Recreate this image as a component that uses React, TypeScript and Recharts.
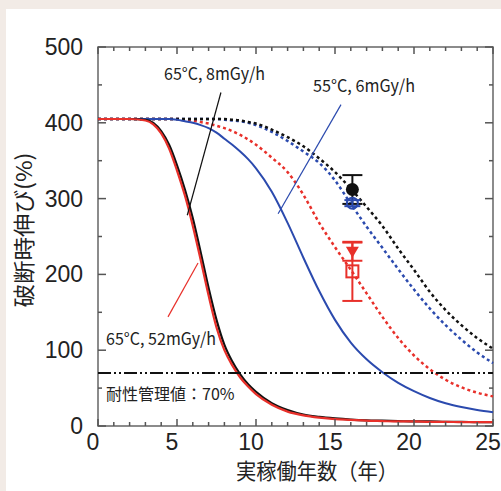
import React from 'react';
import {
  ComposedChart,
  Line,
  Scatter,
  ErrorBar,
  XAxis,
  YAxis,
  ReferenceLine,
  ReferenceArea,
} from 'recharts';

// 実稼働年数 (years)
const years = [0, 1, 2, 3, 3.5, 4, 4.5, 5, 5.5, 6, 6.5, 7, 7.5, 8, 8.5, 9, 9.5, 10, 11, 12, 13, 14, 15, 16, 17, 18, 19, 20, 21, 22, 23, 24, 25];

// solid curves
const black8 = [405, 405, 405, 404, 400, 389, 371, 344, 312, 274, 229, 182, 140, 107, 85, 68, 55, 45, 30, 21, 15, 12, 10, 8.5, 7.5, 7, 6.5, 6, 6, 5.5, 5.5, 5, 5];
const red52 = [405, 405, 405, 403, 398, 386, 366, 337, 304, 264, 219, 172, 130, 100, 80, 64, 52, 42, 28, 19, 14, 11, 9, 8, 7, 6.5, 6, 6, 5.5, 5.5, 5, 5, 5];
const blue6 = [405, 405, 405, 405, 405, 405, 405, 404, 402, 400, 397, 393, 387, 379, 371, 362, 352, 340, 309, 268, 222, 178, 140, 110, 88, 71, 57, 46, 37, 30, 25, 21, 18];

// dotted curves
const blackDot = [405, 405, 405, 405, 405, 405, 405, 405, 405, 405, 405, 405, 405, 405, 404, 403, 401, 399, 391, 381, 369, 353, 335, 313, 289, 264, 234, 206, 177, 153, 133, 116, 102];
const blueDot = [405, 405, 405, 405, 405, 405, 405, 405, 405, 405, 405, 405, 405, 404, 403, 402, 400, 397, 388, 376, 362, 347, 324, 293, 263, 235, 207, 180, 155, 133, 114, 97, 83];
const redDot = [405, 405, 405, 405, 405, 405, 405, 405, 404, 403, 401, 399, 396, 393, 389, 384, 378, 371, 354, 335, 305, 268, 236, 206, 175, 144, 116, 93, 75, 61, 51, 44, 39];

// measured points
const blackPoint = [{ x: 16.1, y: 312, err: 19 }];
const bluePoint = [{ x: 16.1, y: 294, err: 4 }];
const triPoint = [{ x: 16.1, y: 230, err: 12 }];
const squarePoint = [{ x: 16.1, y: 204, err: 39 }];

const xTicks = [0, 1, 2, 3, 4, 5, 6, 7, 8, 9, 10, 11, 12, 13, 14, 15, 16, 17, 18, 19, 20, 21, 22, 23, 24, 25];
const yTicks = [0, 50, 100, 150, 200, 250, 300, 350, 400, 450, 500];
const limitValue = 70;

const table = years.map((x, i) => ({
  x,
  black8: black8[i],
  red52: red52[i],
  blue6: blue6[i],
  blackDot: blackDot[i],
  blueDot: blueDot[i],
  redDot: redDot[i],
}));

const RED = '#e8302a';
const BLUE = '#2b4aae';
const BLACK = '#111';

const W = 501;
const H = 491;
const TOP = 47;
const BOTTOM = 426;
const LEFT = 98;
const RIGHT = 493;

const numFont = '"Liberation Sans", Arial, sans-serif';
const jpFont = '"Noto Sans CJK JP", "Noto Sans", sans-serif';

const XTick = (props: any) => {
  const { x, payload } = props;
  const major = payload.value % 5 === 0;
  const len = major ? 7 : 4;
  return (
    <g>
      <line x1={x} x2={x} y1={BOTTOM} y2={BOTTOM - len} stroke="#555" strokeWidth={1.5} />
      <line x1={x} x2={x} y1={TOP} y2={TOP + len} stroke="#555" strokeWidth={1.5} />
      {major && (
        <text x={x - 5} y={450} textAnchor="middle" fontFamily={numFont} fontSize={23} fill="#222">
          {payload.value}
        </text>
      )}
    </g>
  );
};

const YTick = (props: any) => {
  const { y, payload } = props;
  const major = payload.value % 100 === 0;
  const len = major ? 8 : 4;
  return (
    <g>
      <line x1={LEFT} x2={LEFT + len} y1={y} y2={y} stroke="#555" strokeWidth={1.5} />
      <line x1={RIGHT} x2={RIGHT - len} y1={y} y2={y} stroke="#555" strokeWidth={1.5} />
      {major && (
        <text x={83} y={y + 8} textAnchor="end" fontFamily={numFont} fontSize={23} fill="#222">
          {payload.value}
        </text>
      )}
    </g>
  );
};

const FilledCircle = (p: any) => <circle cx={p.cx} cy={p.cy} r={6.5} fill={BLACK} />;
const OpenCircle = (p: any) => (
  <circle cx={p.cx} cy={p.cy} r={5.5} fill="none" stroke={BLUE} strokeWidth={2} />
);
const DownTriangle = (p: any) => (
  <polygon
    points={`${p.cx - 6.5},${p.cy - 5} ${p.cx + 6.5},${p.cy - 5} ${p.cx},${p.cy + 6}`}
    fill={RED}
  />
);
const OpenSquare = (p: any) => (
  <rect x={p.cx - 6} y={p.cy - 6} width={12} height={12} fill="none" stroke={RED} strokeWidth={2} />
);

export default function App() {
  return (
    <div style={{ position: 'fixed', left: 0, top: 0, width: W, height: H, background: '#f2ebe6' }}>
      <div style={{ position: 'absolute', left: 6, top: 9, width: W - 6, height: H - 9, background: '#fff' }} />
      <div style={{ position: 'absolute', left: 0, top: 0 }}>
        <ComposedChart width={W} height={H} data={table} margin={{ top: TOP, right: W - RIGHT, bottom: 0, left: 0 }}>
          <XAxis
            type="number"
            dataKey="x"
            domain={[0, 25]}
            ticks={xTicks}
            interval={0}
            height={H - BOTTOM}
            axisLine={false}
            tickLine={false}
            tick={(p: any) => <XTick {...p} />}
          />
          <YAxis
            type="number"
            domain={[0, 500]}
            ticks={yTicks}
            interval={0}
            width={LEFT}
            axisLine={false}
            tickLine={false}
            tick={(p: any) => <YTick {...p} />}
          />
          <ReferenceArea x1={0} x2={25} y1={0} y2={500} fill="none" stroke="#666" strokeWidth={1.5} />

          <Line type="monotone" dataKey="redDot" stroke={RED} strokeWidth={2.5} strokeDasharray="3 3" dot={false} isAnimationActive={false} />
          <Line type="monotone" dataKey="blueDot" stroke={BLUE} strokeWidth={2.5} strokeDasharray="3 3" dot={false} isAnimationActive={false} />
          <Line type="monotone" dataKey="blackDot" stroke={BLACK} strokeWidth={2.5} strokeDasharray="3 3" dot={false} isAnimationActive={false} />
          <Line type="monotone" dataKey="blue6" stroke={BLUE} strokeWidth={2} dot={false} isAnimationActive={false} />
          <Line type="monotone" dataKey="black8" stroke={BLACK} strokeWidth={2.2} dot={false} isAnimationActive={false} />
          <Line type="monotone" dataKey="red52" stroke={RED} strokeWidth={2.2} dot={false} isAnimationActive={false} />

          <ReferenceLine y={limitValue} stroke={BLACK} strokeWidth={2} strokeDasharray="13 3 2 3 2 3" />

          <ReferenceLine segment={[{ x: 7.78, y: 440 }, { x: 5.65, y: 278 }]} stroke={BLACK} strokeWidth={1.2} />
          <ReferenceLine segment={[{ x: 15.38, y: 424 }, { x: 11.4, y: 280 }]} stroke={BLUE} strokeWidth={1.2} />
          <ReferenceLine segment={[{ x: 4.43, y: 144 }, { x: 6.33, y: 215 }]} stroke={RED} strokeWidth={1.2} />

          <Scatter data={squarePoint} dataKey="y" shape={OpenSquare} isAnimationActive={false}>
            <ErrorBar dataKey="err" direction="y" width={10} stroke={RED} strokeWidth={2} />
          </Scatter>
          <Scatter data={triPoint} dataKey="y" shape={DownTriangle} isAnimationActive={false}>
            <ErrorBar dataKey="err" direction="y" width={10} stroke={RED} strokeWidth={2} />
          </Scatter>
          <Scatter data={blackPoint} dataKey="y" shape={FilledCircle} isAnimationActive={false}>
            <ErrorBar dataKey="err" direction="y" width={10} stroke={BLACK} strokeWidth={2} />
          </Scatter>
          <Scatter data={bluePoint} dataKey="y" shape={OpenCircle} isAnimationActive={false}>
            <ErrorBar dataKey="err" direction="y" width={8} stroke={BLUE} strokeWidth={2} />
          </Scatter>
        </ComposedChart>
      </div>
      <svg width={W} height={H} style={{ position: 'absolute', left: 0, top: 0, pointerEvents: 'none' }}>
        <g fontFamily={jpFont} fill="#222">
          <text x={164} y={80} fontSize={17} textLength={101} lengthAdjust="spacingAndGlyphs">65°C, 8mGy/h</text>
          <text x={313} y={92} fontSize={17} textLength={102} lengthAdjust="spacingAndGlyphs">55°C, 6mGy/h</text>
          <text x={106} y={345} fontSize={17} textLength={110} lengthAdjust="spacingAndGlyphs">65°C, 52mGy/h</text>
          <text x={106} y={400} fontSize={16}>耐性管理値：70%</text>
          <text x={236} y={479} fontSize={22} textLength={162} lengthAdjust="spacingAndGlyphs">実稼働年数（年）</text>
          <text
            x={0}
            y={0}
            fontSize={22}
            textAnchor="middle"
            textLength={155}
            lengthAdjust="spacingAndGlyphs"
            transform="translate(32,230) rotate(-90)"
          >
            破断時伸び(%)
          </text>
        </g>
      </svg>
    </div>
  );
}
